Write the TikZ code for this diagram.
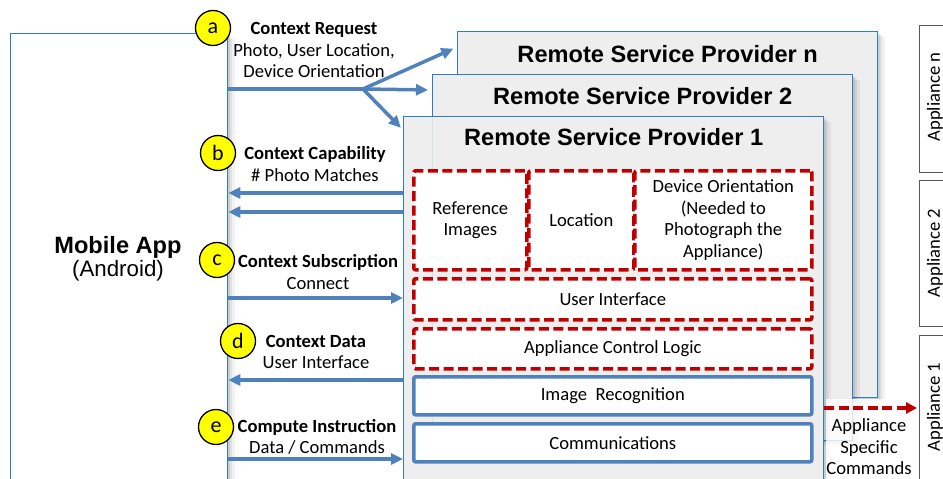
\documentclass[tikz,border=0pt]{standalone}
\usepackage{fontspec}
\setmainfont{Carlito}
\newfontfamily\arialf{Liberation Sans}
\usetikzlibrary{arrows.meta,shadows}
\definecolor{boxblue}{HTML}{2F7DC8}
\definecolor{arrblue}{HTML}{4F81BD}
\definecolor{dred}{HTML}{C00000}
\definecolor{panel}{HTML}{EEEEEE}
\definecolor{appgray}{HTML}{595959}
\definecolor{cyel}{HTML}{FFFF00}
\newcommand\lblfont{\fontsize{18.6}{21.5}\selectfont}
\newcommand\ttlfont{\arialf\bfseries\fontsize{23.6}{27}\selectfont}
\begin{document}
\begin{tikzpicture}[x=1pt,y=-1pt,
  softshadow/.style={
    drop shadow={shadow xshift=7pt,shadow yshift=-5pt,opacity=.05,fill=black},
    drop shadow={shadow xshift=4.5pt,shadow yshift=-3pt,opacity=.07,fill=black},
    drop shadow={shadow xshift=2pt,shadow yshift=-1.5pt,opacity=.09,fill=black}},
  appbox/.style={draw=boxblue,line width=1.3pt,fill=white,anchor=north west,
    minimum width=217pt,minimum height=470pt,inner sep=0pt,softshadow},
  rspbox/.style={draw=boxblue,line width=1.3pt,fill=panel,anchor=north west,
    minimum width=420pt,minimum height=366pt,inner sep=0pt,softshadow},
  ttl/.style={font=\ttlfont,inner sep=0pt},
  redbox/.style={draw=dred,line width=3.6pt,dash pattern=on 10pt off 4.5pt,
    rounded corners=2pt,fill=white,anchor=north west,inner sep=0pt,
    align=center,font=\lblfont},
  bluebox/.style={draw=arrblue,line width=3.6pt,rounded corners=2pt,fill=white,
    anchor=north west,inner sep=0pt,align=center,font=\lblfont,
    minimum width=398pt},
  applbox/.style={draw=appgray,line width=1.2pt,fill=white,anchor=north west,
    minimum width=40pt,inner sep=0pt},
  appltxt/.style={rotate=90,font=\lblfont,inner sep=0pt},
  arr/.style={draw=arrblue,line width=3.5pt,-{Triangle[length=12pt,width=11pt]}},
  plainline/.style={draw=arrblue,line width=3.5pt},
  redarr/.style={draw=dred,line width=3.6pt,dash pattern=on 10pt off 4.5pt,
    -{Triangle[length=11pt,width=11pt]}},
  circ/.style={circle,draw=black,line width=1.3pt,fill=cyel,minimum size=35pt,
    inner sep=0pt,font=\fontsize{22}{24}\selectfont},
  lbl/.style={align=center,font=\lblfont,inner sep=0pt}
]
\useasboundingbox (0,0) rectangle (943,479);

% Mobile app
\node[appbox] (app) at (10,33) {};
\node[align=center,inner sep=0pt] (apptxt) at (118,259)
  {{\ttlfont Mobile App}\\[1pt]{\arialf\fontsize{22.3}{26}\selectfont (Android)}};

% Remote service providers
\node[rspbox] (rspn) at (457,31) {};
\node[ttl] (tn) at ([yshift=-23pt]rspn.north) {Remote Service Provider n};
\node[rspbox] (rsp2) at (432,74) {};
\node[ttl] (t2) at ([yshift=-22pt]rsp2.north) {Remote Service Provider 2};
\node[rspbox] (rsp1) at (403,116) {};
\node[ttl] (t1) at ([yshift=-21pt]rsp1.north) {Remote Service Provider 1};
% faint edge of provider 2 seen through provider 1
\draw[boxblue!22,line width=1pt] (rsp2.west |- rsp1.north) ++(0,1) -- (rsp2.west |- 0,462);

% inner components
\node[redbox,minimum width=113pt,minimum height=99pt] (ref) at (412,169) {Reference\\Images};
\node[redbox,minimum width=105pt,minimum height=99pt] (loc) at (527,169) {Location};
\node[redbox,minimum width=177pt,minimum height=99pt] (dor) at (633,169)
  {Device Orientation\\(Needed to\\Photograph the\\Appliance)};
\node[redbox,minimum width=398pt,minimum height=41pt] (ui) at (412,277) {User Interface};
\node[redbox,minimum width=398pt,minimum height=40pt] (acl) at (412,327) {Appliance Control Logic};
\node[bluebox,minimum height=38pt] (ir) at (412,375) {Image\ \ Recognition};
\node[bluebox,minimum height=38pt] (com) at (412,422) {Communications};

% appliances
\node[applbox,minimum height=147pt] (apn) at (919,25) {};
\node[applbox,minimum height=146pt] (ap2) at (919,180) {};
\node[applbox,minimum height=170pt] (ap1) at (919,335) {};
\node[appltxt] (apntxt) at (935,97) {Appliance n};
\node[appltxt] (ap2txt) at (935,253) {Appliance 2};
\node[appltxt] (ap1txt) at (935,407) {Appliance 1};

% whitish veil under the command label
\fill[white,opacity=.8] (825.5,399) rectangle (912,485);

% arrows
\coordinate (br) at (363,89);
\draw[plainline] (app.east |- br) -- (br);
\draw[arr,shorten >=4pt] (br) -- (rspn.west |- 0,47);
\draw[arr,shorten >=4pt] (br) -- (rsp2.west |- 0,90);
\draw[arr,shorten >=3pt] (br) -- (rsp1.west |- 0,130);
\draw[arr] (rsp1.west |- 0,193) -- (app.east |- 0,193);
\draw[arr] (rsp1.west |- 0,212) -- (app.east |- 0,212);
\draw[arr] (app.east |- 0,298) -- (rsp1.west |- 0,298);
\draw[arr] (rsp1.west |- 0,380) -- (app.east |- 0,380);
\draw[arr] (app.east |- 0,459) -- (rsp1.west |- 0,459);
\draw[redarr,shorten >=2pt] (rsp1.east |- 0,408) -- (ap1.west |- 0,408);
\node[lbl] (asc) at (869,447) {Appliance\\Specific\\Commands};

% step circles and labels
\node[circ] (ca) at (213,28) {a};
\node[circ] (cb) at (218,153) {b};
\node[circ] (cc) at (217,260) {c};
\node[circ] (cd) at (238,341) {d};
\node[circ] (ce) at (216,427) {e};
\node[lbl] (la) at (314,50) {\textbf{Context Request}\\Photo, User Location,\\Device Orientation};
\node[lbl] (lb) at (315,164) {\textbf{Context Capability}\\\# Photo Matches};
\node[lbl] (lc) at (318,272) {\textbf{Context Subscription}\\Connect};
\node[lbl] (ld) at (316,352) {\textbf{Context Data}\\User Interface};
\node[lbl] (le) at (317,437) {\textbf{Compute Instruction}\\Data / Commands};
\end{tikzpicture}
\end{document}
